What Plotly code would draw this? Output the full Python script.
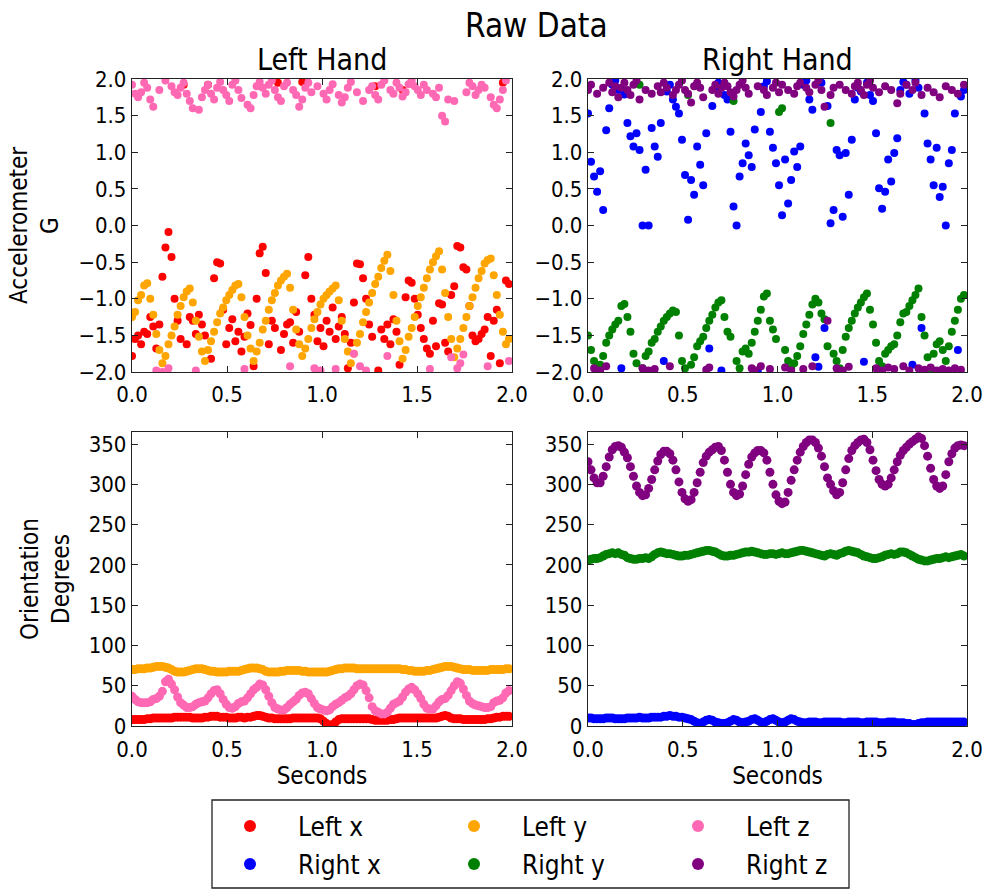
import plotly.graph_objects as go

# ---------------- data (sample period 0.016 s) ----------------
DT = 0.016

left_acc_x = [
    -1.78, -1.55, -1.50, -1.62, -1.45, -1.48, -1.25, -1.38, -1.68, -1.35,
    -0.70, -0.30, -0.09, -0.43, -1.00, -1.30, -1.55, 1.92, -1.62, -1.25,
    -1.30, -1.48, -1.22, -1.35, -1.50, 1.92, -1.82, -0.72, -0.50, -0.52,
    -1.15, -1.62, -1.40, -1.28, -1.58, -1.45, -1.72, -1.52, -1.20, -1.36,
    -1.92, -1.00, -0.38, -0.29, -0.65, -1.62, -1.30, -1.40, 1.95, -1.70,
    -1.48, -1.35, -1.32, -1.60, -1.18, -1.45, 1.96, -0.68, -0.43, -1.00,
    -1.22, -1.58, -1.40, -1.65, -1.30, -1.45, -1.12, -1.55, -1.38, -1.25,
    -1.48, -1.95, -1.60, -1.05, -0.52, -0.53, -0.72, -1.00, -1.35, -1.52,
    1.90, -1.98, -1.42, -1.55, -1.35, -1.62, -1.28, -1.45, -1.90, 1.85,
    -0.98, -0.75, -0.78, -1.00, -1.22, -1.40, -1.55, -1.68, -1.75, -1.30,
    -1.65, -1.06, -1.08, -1.60, -1.72, -0.95, -0.83, -0.28, -0.30, -0.57,
    -0.60, -1.10, -1.50, -1.58, -1.55, -1.48, -1.42, -1.25, -1.78, -1.30,
    -1.15, -1.88, 1.95, -0.75, -0.80,
]
left_acc_y = [
    -1.25, -1.18, -1.02, -0.95, -0.82, -0.79, -1.00, -1.22, -1.48, -1.70,
    -1.88, -1.78, -1.62, -1.50, -1.38, -1.22, -1.10, -0.98, -0.90, -0.86,
    -1.05, -1.30, -1.52, -1.72, -1.85, -1.70, -1.58, -1.45, -1.32, -1.20,
    -1.12, -1.02, -0.95, -0.88, -0.82, -0.80, -0.98, -1.25, -1.50, -1.68,
    -1.85, -1.72, -1.60, -1.42, -1.30, -1.15, -1.02, -0.92, -0.82, -0.75,
    -0.70, -0.66, -0.85, -1.15, -1.42, -1.62, -1.78, -1.68, -1.55, -1.40,
    -1.28, -1.18, -1.08, -1.00, -0.95, -0.90, -0.86, -0.82, -1.02, -1.30,
    -1.55, -1.72, -1.88, -1.75, -1.60, -1.48, -1.32, -1.18, -1.05, -0.92,
    -0.80, -0.70, -0.58, -0.48, -0.40, -0.62, -0.95, -1.30, -1.58, -1.82,
    -1.70, -1.52, -1.40, -1.25, -1.10, -0.98, -0.85, -0.72, -0.60, -0.50,
    -0.42, -0.35, -0.60, -0.92, -1.25, -1.55, -1.80, -1.68, -1.55, -1.40,
    -1.25, -1.10, -0.98, -0.85, -0.72, -0.62, -0.52, -0.47, -0.45, -0.68,
    -0.95, -1.22, -1.45, -1.62, -1.55,
]
left_acc_z = [
    1.92, 1.80, 1.75, 1.82, 1.95, 1.88, 1.72, 1.62, -1.98, 1.85,
    -2.00, 1.98, -1.95, 1.90, 1.82, 1.78, 1.88, 1.95, 1.80, 1.70,
    1.60, -1.98, 1.58, 1.75, 1.85, 1.92, 1.80, 1.72, 1.88, 1.96,
    1.85, 1.78, 1.70, 1.92, 1.98, 1.85, 1.74, -1.96, 1.65, 1.60,
    1.78, 1.90, 1.96, 1.88, 1.80, 1.92, 1.98, 1.85, 1.75, 1.70,
    1.90, 1.95, -1.92, 1.85, 1.78, 1.62, 1.72, 1.88, 1.95, 1.82,
    -1.95, 1.90, -1.98, 1.80, 1.72, 1.85, 1.93, -1.96, 1.78, 1.68,
    1.75, 1.88, 1.96, -1.75, 1.82, -1.92, 1.70, -1.98, 1.85, 1.90,
    1.78, 1.72, 1.92, 1.98, -1.78, 1.85, 1.80, 1.95, 1.88, 1.76,
    1.82, 1.93, 1.98, 1.90, 1.85, 1.78, 1.92, 1.85, -1.96, 1.80,
    1.75, 1.88, 1.50, 1.42, 1.72, -1.80, 1.70, -1.95, -1.88, -1.76,
    1.82, 1.95, 1.90, 1.78, 1.85, 1.92, 1.88, -1.92, 1.75, 1.65,
    1.60, 1.72, 1.85, 1.98, -1.85,
]
right_acc_x = [
    1.53, 0.87, 0.67, 0.46, 0.74, 0.21, 1.30, 1.60, 1.92, 1.98,
    1.85, -1.95, 1.79, 1.40, 1.22, 1.08, 1.26, 1.03, 0.00, 0.76,
    0.00, 1.33, 1.08, 0.94, 1.40, -1.85, 1.83, 1.92, 1.72, 1.62,
    1.53, 1.17, 0.69, 0.08, 0.62, 0.42, 1.08, 0.83, 0.55, 1.26,
    -1.68, 1.63, 1.88, 1.95, -1.98, 1.78, 1.72, 1.28, 0.26, 0.00,
    0.67, 0.85, 1.12, 0.96, 0.80, 1.31, -1.98, 1.55, 1.90, 1.97,
    1.28, 1.06, 0.85, 0.55, 0.14, 0.90, 0.30, 0.62, 1.01, 0.80,
    1.08, 1.92, 1.98, 1.72, 1.58, -1.80, -1.93, 1.95, -1.40, 1.63,
    0.03, 0.21, 1.03, 0.96, 0.12, 0.99, 0.42, 1.17, 1.72, 1.88,
    1.83, -1.86, 1.95, 1.78, 1.70, 1.26, 0.51, 0.23, 0.46, 0.90,
    0.60, 0.99, 1.19, 1.85, 1.96, 1.92, 1.80, -1.90, 1.98, 1.88,
    -1.40, 1.53, 1.12, 0.90, 0.55, 1.06, 0.39, 0.53, 0.00, 0.85,
    1.03, 1.53, -1.70, 1.76, 1.85,
]
right_acc_y = [
    -1.50, -1.70, -1.85, -1.95, -1.90, -1.78, -1.60, -1.50, -1.42, -1.35,
    -1.30, -1.10, -1.07, -1.25, -1.45, -1.75, -1.88, 1.92, -1.95, -1.78,
    -1.72, -1.60, -1.55, -1.45, -1.38, -1.30, -1.25, -1.20, -1.16, -1.18,
    -1.50, -1.85, -1.95, 1.78, -1.90, -1.80, -1.65, -1.58, -1.52, -1.40,
    -1.30, -1.22, -1.12, -1.05, -1.02, -1.25, -1.45, -1.52, 1.70, -1.85,
    -1.95, -1.72, -1.68, -1.75, -1.60, -1.45, -1.30, -1.15, -0.97, -0.93,
    -1.30, -1.42, -1.55, 1.55, 1.60, -1.70, -1.85, -1.95, -1.88, -1.78,
    -1.65, -1.48, -1.35, -1.22, -1.08, -1.00, -1.05, -1.20, -1.28, -1.65,
    1.40, -1.75, -1.85, -1.95, -1.70, -1.52, -1.40, -1.30, -1.20, -1.12,
    -1.05, -0.98, -0.93, -1.15, -1.35, -1.60, -1.85, -1.92, -1.75, -1.70,
    -1.65, -1.62, -1.50, -1.32, -1.20, -1.18, -1.10, -1.02, -0.95, -0.86,
    -1.25, -1.50, -1.80, -1.95, -1.75, -1.62, -1.58, -1.70, -1.85, -1.65,
    -1.45, -1.30, -1.15, -1.00, -0.95,
]
right_acc_z = [
    1.85, 1.92, -1.95, 1.80, -1.98, 1.88, -1.92, 1.95, 1.82, 1.90,
    1.75, 1.88, 1.95, 1.85, 1.78, 1.92, 1.98, 1.72, -1.95, 1.85,
    -1.98, 1.80, -1.96, 1.90, 1.82, 1.95, 1.88, -1.92, 1.78, 1.85,
    1.92, 1.98, 1.85, 1.80, 1.68, 1.90, 1.95, 1.88, 1.75, -1.97,
    -1.94, 1.85, 1.92, 1.80, 1.88, 1.95, 1.90, 1.82, 1.76, 1.85,
    1.92, 1.98, 1.88, 1.80, -1.95, -1.98, 1.90, -1.92, 1.85, 1.78,
    -1.96, 1.88, 1.95, 1.82, 1.92, -1.94, 1.85, -1.98, 1.80, 1.90,
    1.95, -1.96, 1.88, 1.82, -1.92, 1.92, 1.98, 1.85, 1.62, -1.30,
    1.78, 1.88, -1.95, 1.92, -1.98, 1.85, -1.93, 1.80, 1.90, 1.95,
    1.85, 1.78, 1.92, 1.98, 1.88, -1.95, 1.82, -1.98, 1.90, -1.94,
    1.85, -1.96, 1.67, 1.80, -1.92, 1.92, -1.98, 1.85, 1.95, -1.95,
    1.78, -1.97, 1.88, -1.94, 1.82, -1.98, 1.75, -1.96, 1.90, -1.98,
    1.85, -1.95, 1.80, -1.97, 1.92,
]

left_ori_x = [
    8, 8, 8, 8, 8, 9, 9, 10, 10, 10,
    10, 10, 10, 10, 11, 11, 11, 11, 11, 11,
    10, 10, 10, 10, 11, 11, 12, 12, 12, 11,
    11, 11, 10, 10, 10, 11, 11, 10, 11, 11,
    12, 13, 13, 12, 11, 10, 10, 9, 9, 9,
    9, 9, 9, 10, 10, 10, 10, 10, 10, 10,
    10, 10, 9, 6, 3, 1, 2, 5, 8, 9,
    9, 9, 9, 9, 9, 9, 9, 9, 9, 8,
    7, 7, 7, 7, 7, 8, 8, 9, 10, 10,
    10, 10, 10, 10, 10, 10, 10, 10, 10, 10,
    10, 11, 12, 13, 12, 10, 9, 9, 9, 8,
    8, 8, 8, 8, 8, 8, 8, 9, 9, 10,
    11, 11, 12, 12, 12,
]
left_ori_y = [
    70, 70, 71, 71, 71, 72, 72, 73, 74, 74,
    74, 73, 72, 70, 68, 67, 67, 67, 68, 69,
    70, 71, 71, 71, 70, 69, 68, 68, 67, 67,
    67, 67, 68, 68, 68, 68, 69, 70, 71, 72,
    72, 72, 71, 70, 68, 67, 67, 67, 67, 68,
    68, 69, 69, 69, 69, 69, 68, 68, 67, 67,
    67, 67, 67, 67, 67, 68, 69, 70, 71, 71,
    72, 72, 72, 72, 71, 71, 71, 71, 71, 71,
    71, 71, 71, 71, 71, 71, 71, 71, 71, 70,
    70, 69, 69, 68, 68, 68, 68, 69, 69, 70,
    71, 72, 73, 74, 74, 74, 73, 72, 71, 70,
    70, 70, 69, 69, 69, 69, 69, 69, 70, 70,
    70, 70, 70, 71, 71,
]
left_ori_z = [
    37, 33, 30, 29, 29, 29, 30, 33, 34, 37,
    43, 55, 58, 52, 45, 36, 29, 26, 23, 23,
    24, 27, 29, 30, 31, 35, 40, 44, 45, 40,
    33, 27, 23, 22, 24, 28, 30, 31, 35, 40,
    45, 48, 52, 51, 45, 37, 29, 23, 21, 20,
    20, 23, 27, 30, 33, 38, 41, 42, 40, 34,
    28, 23, 21, 20, 19, 20, 24, 27, 29, 32,
    35, 37, 40, 45, 50, 52, 51, 44, 35, 24,
    19, 17, 15, 15, 17, 22, 27, 29, 31, 36,
    42, 46, 48, 45, 40, 34, 27, 22, 21, 21,
    25, 30, 33, 34, 38, 44, 50, 55, 53, 46,
    38, 31, 28, 26, 25, 24, 23, 23, 24, 29,
    31, 32, 35, 41, 44,
]
right_ori_x = [
    10, 10, 9, 9, 9, 9, 10, 10, 10, 9,
    9, 9, 9, 10, 10, 10, 10, 11, 10, 10,
    10, 11, 11, 11, 11, 12, 12, 13, 12, 12,
    11, 11, 10, 9, 8, 6, 4, 3, 5, 7,
    8, 7, 5, 4, 3, 3, 4, 6, 8, 7,
    5, 4, 5, 6, 8, 9, 7, 5, 4, 6,
    8, 9, 7, 5, 4, 5, 7, 9, 8, 6,
    5, 4, 4, 5, 5, 5, 4, 4, 5, 5,
    5, 5, 5, 5, 4, 4, 5, 5, 5, 5,
    4, 4, 5, 5, 5, 5, 4, 4, 4, 5,
    5, 5, 4, 4, 4, 3, 3, 2, 2, 3,
    4, 4, 5, 5, 5, 5, 5, 5, 5, 5,
    5, 5, 5, 5, 5,
]
right_ori_y = [
    206, 207, 208, 208, 209, 211, 213, 214, 215, 214,
    215, 213, 212, 209, 208, 207, 207, 208, 208, 209,
    208, 210, 213, 215, 216, 215, 214, 214, 213, 212,
    211, 211, 212, 212, 213, 214, 215, 216, 217, 218,
    218, 217, 216, 214, 212, 211, 211, 212, 212, 213,
    214, 215, 216, 216, 217, 216, 215, 214, 213, 213,
    214, 214, 213, 214, 215, 214, 214, 215, 216, 217,
    218, 218, 217, 216, 215, 214, 213, 212, 211, 213,
    214, 213, 212, 214, 215, 217, 218, 217, 216, 215,
    213, 211, 210, 209, 208, 208, 209, 210, 212, 213,
    214, 213, 214, 216, 216, 215, 213, 211, 209, 207,
    206, 205, 205, 206, 207, 208, 208, 209, 210, 209,
    210, 211, 212, 213, 211,
]
right_ori_z = [
    328, 318, 308, 302, 302, 310, 322, 334, 343, 347,
    348, 346, 340, 333, 322, 310, 298, 290, 286, 287,
    295, 306, 318, 329, 337, 341, 341, 338, 330, 318,
    303, 290, 282, 279, 281, 290, 302, 315, 327, 335,
    340, 343, 346, 347, 342, 330, 315, 300, 290, 286,
    288, 298, 312, 325, 334, 339, 342, 342, 339, 330,
    315, 300, 287, 279, 276, 278, 290, 305, 318, 330,
    340, 347, 352, 355, 355, 352, 345, 335, 322, 308,
    300, 292, 287, 290, 302, 318, 332, 342, 348, 352,
    355, 356, 352, 343, 330, 317, 306, 300, 298, 300,
    308, 318, 328, 336, 342, 346, 350, 353, 356, 359,
    357, 348, 335, 320, 306, 298, 295, 298, 312, 328,
    338, 345, 348, 349, 348,
]

labels = ["Left x", "Left y", "Left z", "Right x", "Right y", "Right z"]
colors = ["#ff0000", "#ffa500", "#ff69b4", "#0000ff", "#008000", "#800080"]
x_ticks = [0.0, 0.5, 1.0, 1.5, 2.0]
acc_ticks = [-2.0, -1.5, -1.0, -0.5, 0.0, 0.5, 1.0, 1.5, 2.0]
ori_ticks = [0, 50, 100, 150, 200, 250, 300, 350]


def times(vals):
    return [round(i * DT, 3) for i in range(len(vals))]


W, H = 991, 889
FONT = "DejaVu Sans Condensed, DejaVu Sans"

fig = go.Figure()

acc_sets = [
    (left_acc_x, 0, "x", "y"), (left_acc_y, 1, "x", "y"), (left_acc_z, 2, "x", "y"),
    (right_acc_x, 3, "x2", "y2"), (right_acc_y, 4, "x2", "y2"), (right_acc_z, 5, "x2", "y2"),
]
for vals, k, xa, ya in acc_sets:
    fig.add_trace(go.Scatter(
        x=times(vals), y=vals, mode="markers", xaxis=xa, yaxis=ya,
        marker=dict(size=8, color=colors[k], line=dict(width=0)),
        name=labels[k], showlegend=False, hoverinfo="skip"))

ori_sets = [
    (left_ori_x, 0, "x3", "y3", "legend"), (left_ori_y, 1, "x3", "y3", "legend"),
    (left_ori_z, 2, "x3", "y3", "legend"),
    (right_ori_x, 3, "x4", "y4", "legend2"), (right_ori_y, 4, "x4", "y4", "legend2"),
    (right_ori_z, 5, "x4", "y4", "legend2"),
]
for vals, k, xa, ya, lg in ori_sets:
    fig.add_trace(go.Scatter(
        x=times(vals), y=vals, mode="markers", xaxis=xa, yaxis=ya,
        marker=dict(size=9, color=colors[k], line=dict(width=0)),
        name=labels[k], showlegend=True, legend=lg, hoverinfo="skip"))


def px_x(a, b):
    return [a / W, b / W]


def px_y(top, bottom):
    return [1 - bottom / H, 1 - top / H]


axis_style = dict(
    showline=True, linecolor="#222222", linewidth=1.3, mirror="allticks",
    ticks="inside", ticklen=6, tickwidth=1, tickcolor="#222222",
    showgrid=False, zeroline=False, automargin=False,
    tickfont=dict(family=FONT, size=22, color="black"),
)

xdom_l, xdom_r = px_x(132, 512), px_x(588, 967)
ydom_t, ydom_b = px_y(79, 372), px_y(432, 726)
title_font = dict(family=FONT, size=24, color="black")

fig.update_layout(
    xaxis=dict(domain=xdom_l, anchor="y", range=[0, 2], tickvals=x_ticks, tickformat=".1f",
               ticklabelstandoff=2, **axis_style),
    yaxis=dict(domain=ydom_t, anchor="x", range=[-2, 2], tickvals=acc_ticks, tickformat=".1f",
               title=dict(text="Accelerometer<br>G", font=title_font, standoff=12), **axis_style),
    xaxis2=dict(domain=xdom_r, anchor="y2", range=[0, 2], tickvals=x_ticks, tickformat=".1f",
                ticklabelstandoff=2, **axis_style),
    yaxis2=dict(domain=ydom_t, anchor="x2", range=[-2, 2], tickvals=acc_ticks, tickformat=".1f", **axis_style),
    xaxis3=dict(domain=xdom_l, anchor="y3", range=[0, 2], tickvals=x_ticks, tickformat=".1f",
                ticklabelstandoff=3,
                title=dict(text="Seconds", font=title_font, standoff=5), **axis_style),
    yaxis3=dict(domain=ydom_b, anchor="x3", range=[0, 365], tickvals=ori_ticks,
                title=dict(text="Orientation<br>Degrees", font=title_font, standoff=12), **axis_style),
    xaxis4=dict(domain=xdom_r, anchor="y4", range=[0, 2], tickvals=x_ticks, tickformat=".1f",
                ticklabelstandoff=3,
                title=dict(text="Seconds", font=title_font, standoff=5), **axis_style),
    yaxis4=dict(domain=ydom_b, anchor="x4", range=[0, 365], tickvals=ori_ticks, **axis_style),
)

legend_common = dict(
    orientation="h", xanchor="left", yanchor="middle",
    font=dict(family=FONT, size=26, color="black"),
    itemwidth=86, entrywidth=123, entrywidthmode="pixels",
    itemsizing="constant", bgcolor="rgba(0,0,0,0)", borderwidth=0,
    traceorder="normal", itemclick=False, itemdoubleclick=False,
)
fig.update_layout(
    legend=dict(x=202 / W, y=1 - 826 / H, **legend_common),
    legend2=dict(x=202 / W, y=1 - 864 / H, **legend_common),
)

fig.add_shape(type="rect", xref="paper", yref="paper",
              x0=212 / W, x1=849 / W, y0=1 - 888 / H, y1=1 - 800 / H,
              line=dict(color="#222222", width=1.3), fillcolor="rgba(0,0,0,0)")

annotations = [
    dict(text="Raw Data", x=536 / W, y=1 - 25 / H, size=33),
    dict(text="Left Hand", x=322 / W, y=1 - 60 / H, size=30),
    dict(text="Right Hand", x=777.5 / W, y=1 - 60 / H, size=30),
]
for a in annotations:
    fig.add_annotation(text=a["text"], x=a["x"], y=a["y"], xref="paper", yref="paper",
                       xanchor="center", yanchor="middle", showarrow=False,
                       font=dict(family=FONT, size=a["size"], color="black"))

fig.update_layout(
    width=W, height=H, margin=dict(l=0, r=0, t=0, b=0, autoexpand=False),
    paper_bgcolor="white", plot_bgcolor="white",
    font=dict(family=FONT, color="black"),
)

fig.write_html(
    "out.html",
    config={"displayModeBar": False},
    post_script="document.body.style.margin='0px';document.body.style.padding='0px';",
)
